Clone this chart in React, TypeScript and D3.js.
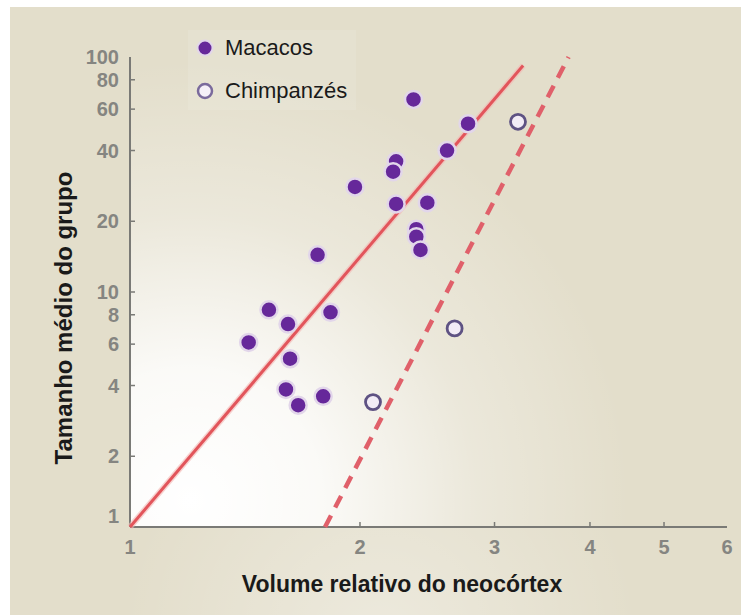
import React from "react";
import * as d3 from "d3";

const macacosX = [2.35, 2.77, 2.6, 1.97, 2.23, 2.21, 2.23, 2.45, 2.37, 2.37, 2.4, 1.76, 1.52, 1.83, 1.61, 1.43, 1.62, 1.6, 1.66, 1.79];
const macacosY = [66, 52, 40, 28, 36, 32.5, 23.7, 24, 18.5, 17.2, 15.1, 14.4, 8.4, 8.2, 7.3, 6.1, 5.2, 3.85, 3.3, 3.6];
const chimpX = [3.22, 2.66, 2.08];
const chimpY = [53, 7.0, 3.4];
const solidLineX = [1, 3.27];
const solidLineY = [1, 92];
const dashedLineX = [1.8, 3.75];
const dashedLineY = [1, 100];
const xTicks = [1, 2, 3, 4, 5, 6];
const yTicks = [1, 2, 4, 6, 8, 10, 20, 40, 60, 80, 100];
const legendLabels = ["Macacos", "Chimpanzés"];
const xTitle = "Volume relativo do neocórtex";
const yTitle = "Tamanho médio do grupo";

const W = 741;
const H = 615;
const FONT = "'Liberation Sans', Arial, Helvetica, sans-serif";

export default function App() {
  const x = d3.scaleLog().domain([1, 6]).range([130, 130 + 764 * Math.log10(6)]);
  const y = d3.scaleLog().domain([1, 100]).range([527, 57]);
  const line = d3
    .line<[number, number]>()
    .x((d) => x(d[0]))
    .y((d) => y(d[1]));
  const solid: [number, number][] = solidLineX.map((v, i) => [v, solidLineY[i]]);
  const dashed: [number, number][] = dashedLineX.map((v, i) => [v, dashedLineY[i]]);
  const x0 = x(1);
  const y0 = y(1);
  const yTop = y(100);
  const xEnd = 727;

  return (
    <div style={{ position: "absolute", left: 0, top: 0 }}>
      <svg width={W} height={H} style={{ display: "block" }}>
        <defs>
          <radialGradient id="glow" gradientUnits="userSpaceOnUse" cx={190} cy={500} r={440}>
            <stop offset="0" stopColor="#ffffff" stopOpacity={1} />
            <stop offset="0.3" stopColor="#ffffff" stopOpacity={0.85} />
            <stop offset="0.65" stopColor="#ffffff" stopOpacity={0.3} />
            <stop offset="1" stopColor="#ffffff" stopOpacity={0} />
          </radialGradient>
          <radialGradient id="glow2" gradientUnits="userSpaceOnUse" cx={380} cy={640} r={260}>
            <stop offset="0" stopColor="#ffffff" stopOpacity={0.35} />
            <stop offset="1" stopColor="#ffffff" stopOpacity={0} />
          </radialGradient>
        </defs>
        <rect x={0} y={0} width={W} height={H} fill="#ffffff" />
        <rect x={10} y={7} width={W - 10} height={H - 7} fill="#e3decb" />
        <rect x={10} y={y0} width={W - 10} height={H - y0} fill="url(#glow2)" />
        <rect x={x0} y={yTop} width={xEnd - x0} height={y0 - yTop} fill="url(#glow)" />
        {/* legend box */}
        <rect x={188} y={30} width={168} height={80} fill="#ffffff" opacity={0.1} />

        {/* axes */}
        <line x1={x0} y1={yTop} x2={x0} y2={y0} stroke="#7a7a76" strokeWidth={2} />
        <line x1={x0} y1={y0} x2={xEnd} y2={y0} stroke="#7a7a76" strokeWidth={2} />
        {yTicks
          .filter((t) => t !== 1 && t !== 100)
          .map((t) => (
            <line key={"yt" + t} x1={x0} x2={x0 + 5} y1={y(t)} y2={y(t)} stroke="#7a7a76" strokeWidth={1.5} />
          ))}
        {xTicks
          .filter((t) => t !== 1 && t !== 6)
          .map((t) => (
            <line key={"xt" + t} x1={x(t)} x2={x(t)} y1={y0} y2={y0 - 5} stroke="#7a7a76" strokeWidth={1.5} />
          ))}
        {yTicks.map((t) => (
          <text
            key={"yl" + t}
            x={119}
            y={t === 1 ? y(t) - 11 : y(t)}
            textAnchor="end"
            dominantBaseline="central"
            fontFamily={FONT}
            fontWeight="bold"
            fontSize={20}
            fill="#858581"
          >
            {t}
          </text>
        ))}
        {xTicks.map((t) => (
          <text
            key={"xl" + t}
            x={t === 6 ? xEnd : x(t)}
            y={547}
            textAnchor="middle"
            dominantBaseline="central"
            fontFamily={FONT}
            fontWeight="bold"
            fontSize={20}
            fill="#858581"
          >
            {t}
          </text>
        ))}

        {/* regression lines */}
        <path d={line(solid) || ""} fill="none" stroke="#f4b8b4" strokeWidth={6} opacity={0.6} />
        <path d={line(solid) || ""} fill="none" stroke="#e2555b" strokeWidth={3} />
        <path d={line(dashed) || ""} fill="none" stroke="#e0606a" strokeWidth={4.5} strokeDasharray="13,9" />

        {/* macacos */}
        {macacosX.map((v, i) => (
          <circle
            key={"m" + i}
            cx={x(v)}
            cy={y(macacosY[i])}
            r={8.5}
            fill="#66289a"
            stroke="#e2d6ea"
            strokeWidth={2.5}
          />
        ))}
        {/* chimpanzés */}
        {chimpX.map((v, i) => (
          <circle
            key={"c" + i}
            cx={x(v)}
            cy={y(chimpY[i])}
            r={7.5}
            fill="#f2ecf6"
            stroke="#5e5283"
            strokeWidth={2.8}
          />
        ))}

        {/* legend */}
        <circle cx={205} cy={48} r={7.5} fill="#66289a" stroke="#e2d6ea" strokeWidth={2} />
        <circle cx={205} cy={91} r={7} fill="#f5f0f8" stroke="#7a6a9c" strokeWidth={2.5} />
        <text x={225} y={55} fontFamily={FONT} fontSize={22} fill="#1a1a1a">
          {legendLabels[0]}
        </text>
        <text x={225} y={98} fontFamily={FONT} fontSize={22} fill="#1a1a1a">
          {legendLabels[1]}
        </text>

        {/* axis titles */}
        <text
          x={402}
          y={592}
          textAnchor="middle"
          fontFamily={FONT}
          fontWeight="bold"
          fontSize={23}
          fill="#1a1a1a"
        >
          {xTitle}
        </text>
        <text
          transform="translate(72,318) rotate(-90)"
          textAnchor="middle"
          fontFamily={FONT}
          fontWeight="bold"
          fontSize={24}
          fill="#1a1a1a"
        >
          {yTitle}
        </text>
      </svg>
    </div>
  );
}
